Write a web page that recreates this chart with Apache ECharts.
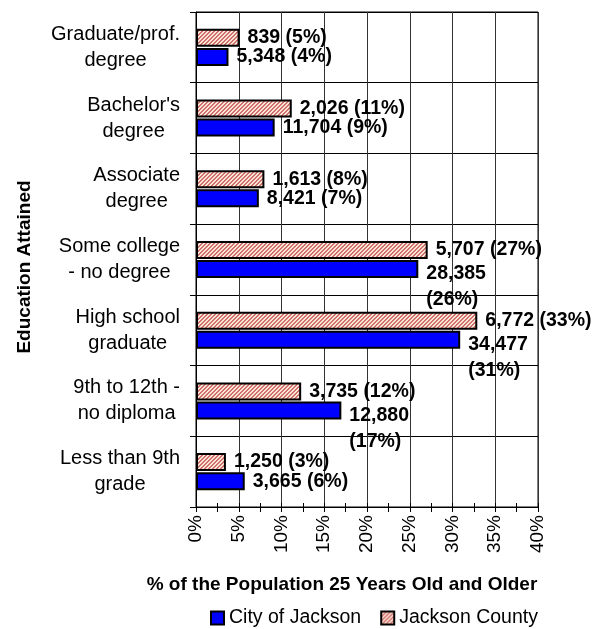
<!DOCTYPE html>
<html>
<head>
<meta charset="utf-8">
<script src="https://cdn.jsdelivr.net/npm/echarts@6/dist/echarts.min.js"></script>
<style>
  html, body { margin: 0; padding: 0; background: #fff; }
  #chart { width: 603px; height: 629px; }
</style>
</head>
<body>
<div id="chart"></div>
<script>
// Education attainment, population 25 years and older
const categories = [
  'Graduate/prof.\ndegree',
  "Bachelor's\ndegree",
  'Associate\ndegree',
  'Some college\n- no degree',
  'High school\ngraduate',
  '9th to 12th -\nno diploma',
  'Less than 9th\ngrade'
];
const countyPct = [5.1, 11.2, 8.0, 27.1, 32.9, 12.3, 3.5];
const cityPct = [3.8, 9.2, 7.35, 26.0, 30.9, 17.0, 5.7];
const countyLabels = ['839 (5%)', '2,026 (11%)', '1,613 (8%)', '5,707 (27%)', '6,772 (33%)', '3,735 (12%)', '1,250 (3%)'];
const cityLabels = ['5,348 (4%)', '11,704 (9%)', '8,421 (7%)', '28,385\n(26%)', '34,477\n(31%)', '12,880\n(17%)', '3,665 (6%)'];
const seriesNames = ['City of Jackson', 'Jackson County'];
const xMin = 0, xMax = 40, xStep = 5;

const FONT = '"Liberation Sans", Arial, sans-serif';

// Diagonal hatch tile for the county bars
function hatchTile() {
  const c = document.createElement('canvas');
  c.width = 4; c.height = 4;
  const ctx = c.getContext('2d');
  ctx.fillStyle = '#fbe6d8';
  ctx.fillRect(0, 0, 4, 4);
  ctx.fillStyle = '#d0706c';
  for (let y = 0; y < 4; y++) {
    for (let x = 0; x < 4; x++) {
      const d = (x + y) % 4;
      if (d === 0 || d === 1) ctx.fillRect(x, y, 1, 1);
    }
  }
  return c;
}
const hatch = { image: hatchTile(), repeat: 'repeat' };

function barLabel(texts) {
  return {
    show: true,
    position: 'right',
    distance: 8,
    color: '#000',
    fontFamily: FONT,
    fontWeight: 'bold',
    fontSize: 19.5,
    lineHeight: 26,
    formatter: p => texts[p.dataIndex]
  };
}
// Two-line labels hang below their bar
function withOffsets(values, texts) {
  return values.map((v, i) => texts[i].indexOf('\n') >= 0
    ? { value: v, label: { offset: [0, 18] } }
    : v);
}

const chart = echarts.init(document.getElementById('chart'), null, { renderer: 'canvas' });
chart.setOption({
  animation: false,
  backgroundColor: '#fff',
  grid: {
    left: 196, top: 12, width: 342, height: 495,
    show: true, borderColor: '#000', borderWidth: 1, backgroundColor: 'transparent'
  },
  xAxis: [{
    type: 'value', min: xMin, max: xMax, interval: xStep,
    axisLine: { show: true, lineStyle: { color: '#000', width: 1 } },
    axisTick: { show: true, length: 5, lineStyle: { color: '#000' } },
    minorTick: { show: true, splitNumber: 2, length: 5, lineStyle: { color: '#000' } },
    splitLine: { show: true, lineStyle: { color: '#333', width: 1 } },
    axisLabel: {
      rotate: 90, margin: 8, color: '#000', fontFamily: FONT, fontSize: 19,
      formatter: v => v + '%'
    }
  }, {
    type: 'value', min: xMin, max: xMax, interval: xStep, position: 'bottom',
    axisLine: { show: false },
    axisTick: { show: true, inside: true, length: 4, lineStyle: { color: '#000' } },
    minorTick: { show: true, splitNumber: 2, length: 4, lineStyle: { color: '#000' } },
    splitLine: { show: false },
    axisLabel: { show: false }
  }],
  yAxis: {
    type: 'category', data: categories, inverse: true,
    axisLine: { show: true, lineStyle: { color: '#000', width: 1 } },
    axisTick: { show: true, length: 6, lineStyle: { color: '#000' } },
    splitLine: { show: true, lineStyle: { color: '#000', width: 1 } },
    axisLabel: {
      align: 'right', margin: 16, color: '#000',
      formatter: v => v.split('\n').map(s => '{c|' + s + '}').join('\n'),
      rich: { c: { align: 'center', fontFamily: FONT, fontSize: 20, lineHeight: 26, color: '#000' } }
    }
  },
  legend: {
    data: seriesNames,
    left: 205, top: 603,
    icon: 'rect', itemWidth: 13, itemHeight: 13, itemGap: 19,
    textStyle: { color: '#000', fontFamily: FONT, fontSize: 19.5 }
  },
  graphic: [{
    type: 'text', x: 342, y: 585,
    style: { text: '% of the Population 25 Years Old and Older', fill: '#000',
      fontFamily: FONT, fontWeight: 'bold', fontSize: 19, align: 'center', verticalAlign: 'middle' }
  }, {
    type: 'text', x: 25, y: 267, rotation: Math.PI / 2,
    style: { text: 'Education Attained', fill: '#000',
      fontFamily: FONT, fontWeight: 'bold', fontSize: 19, align: 'center', verticalAlign: 'middle' }
  }],
  series: [{
    name: seriesNames[1], type: 'bar', xAxisIndex: 0,
    data: withOffsets(countyPct, countyLabels),
    barWidth: 18, barGap: '6%',
    itemStyle: { color: hatch, borderColor: '#000', borderWidth: 2 },
    label: barLabel(countyLabels)
  }, {
    name: seriesNames[0], type: 'bar', xAxisIndex: 0,
    data: withOffsets(cityPct, cityLabels),
    barWidth: 18, barGap: '6%',
    itemStyle: { color: '#0000ff', borderColor: '#000', borderWidth: 2 },
    label: barLabel(cityLabels)
  }]
});
</script>
</body>
</html>
